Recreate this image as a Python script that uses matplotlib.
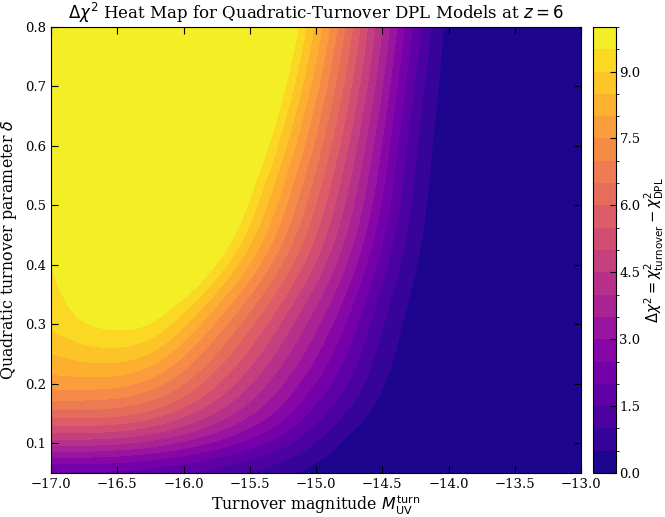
import numpy as np
import matplotlib
matplotlib.use("Agg")
import matplotlib.pyplot as plt
from matplotlib.colors import ListedColormap, BoundaryNorm

plt.rcParams['font.family'] = 'DejaVu Serif'
plt.rcParams['mathtext.fontset'] = 'dejavusans'

# turnover magnitude grid (columns) and quadratic parameter grid (rows)
m_turn = [-17.0, -16.75, -16.5, -16.25, -16.0, -15.75, -15.5, -15.25, -15.0,
          -14.75, -14.5, -14.25, -14.0, -13.75, -13.5, -13.25, -13.0]
delta = [0.05, 0.1, 0.15, 0.2, 0.25, 0.3, 0.35, 0.4, 0.45, 0.5,
         0.55, 0.6, 0.65, 0.7, 0.75, 0.8]

# delta chi^2, one row per delta value
dchi2 = [
    [1.5, 1.5, 1.45, 1.35, 1.2, 1.0, 0.75, 0.48, 0.2, 0.05, 0.02, 0.0, 0.0, 0.0, 0.0, 0.0, 0.0],
    [4.35, 4.35, 4.25, 3.95, 3.5, 2.95, 2.35, 1.75, 0.95, 0.25, 0.1, 0.02, 0.0, 0.0, 0.0, 0.0, 0.0],
    [6.4, 6.4, 6.35, 6.0, 5.35, 4.55, 3.7, 2.8, 1.8, 0.85, 0.2, 0.05, 0.0, 0.0, 0.0, 0.0, 0.0],
    [7.85, 7.85, 7.8, 7.4, 6.6, 5.6, 4.6, 3.55, 2.5, 1.5, 0.45, 0.1, 0.01, 0.0, 0.0, 0.0, 0.0],
    [8.45, 8.8, 8.9, 8.6, 7.65, 6.5, 5.4, 4.25, 3.1, 1.95, 0.7, 0.12, 0.01, 0.0, 0.0, 0.0, 0.0],
    [9.1, 9.63, 9.75, 9.75, 8.65, 7.4, 6.15, 4.9, 3.65, 2.4, 0.95, 0.16, 0.02, 0.0, 0.0, 0.0, 0.0],
    [9.3, 9.86, 10.1, 10.3, 9.83, 8.44, 7.06, 5.67, 4.28, 2.89, 1.3, 0.26, 0.03, 0.0, 0.0, 0.0, 0.0],
    [9.37, 10.2, 10.6, 11.0, 11.0, 9.56, 8.03, 6.5, 4.97, 3.44, 1.7, 0.4, 0.04, 0.0, 0.0, 0.0, 0.0],
    [9.42, 10.35, 10.8, 11.2, 11.4, 10.49, 8.84, 7.2, 5.56, 3.92, 2.1, 0.52, 0.05, 0.0, 0.0, 0.0, 0.0],
    [9.45, 10.5, 11.0, 11.5, 11.8, 11.14, 9.43, 7.73, 6.02, 4.32, 2.5, 0.65, 0.05, 0.0, 0.0, 0.0, 0.0],
    [9.46, 10.65, 11.2, 11.8, 12.0, 11.6, 10.0, 8.22, 6.44, 4.66, 2.75, 0.78, 0.06, 0.0, 0.0, 0.0, 0.0],
    [9.47, 10.8, 11.5, 12.0, 12.0, 12.0, 10.62, 8.76, 6.9, 5.04, 3.0, 0.9, 0.06, 0.0, 0.0, 0.0, 0.0],
    [9.52, 10.9, 11.8, 12.0, 12.0, 12.0, 11.16, 9.23, 7.3, 5.36, 3.3, 1.08, 0.07, 0.0, 0.0, 0.0, 0.0],
    [9.55, 11.0, 12.0, 12.0, 12.0, 12.0, 11.75, 9.74, 7.73, 5.72, 3.6, 1.28, 0.08, 0.0, 0.0, 0.0, 0.0],
    [9.58, 11.0, 12.0, 12.0, 12.0, 12.0, 12.0, 10.16, 8.09, 6.02, 3.85, 1.52, 0.1, 0.0, 0.0, 0.0, 0.0],
    [9.6, 11.0, 12.0, 12.0, 12.0, 12.0, 12.0, 10.61, 8.47, 6.33, 4.1, 1.78, 0.12, 0.0, 0.0, 0.0, 0.0],
]

cbar_ticks = [0.0, 1.5, 3.0, 4.5, 6.0, 7.5, 9.0]

# 20 filled bands of width 0.5, coloured at their mid values like contourf
levels = np.linspace(0, 10, 21)
mids = 0.5 * (levels[:-1] + levels[1:]) / 10.0
band_cmap = ListedColormap(plt.cm.plasma(mids))
band_cmap.set_over(band_cmap(1.0))
band_cmap.set_under(band_cmap(0.0))
norm = BoundaryNorm(levels, band_cmap.N)

dx = (m_turn[1] - m_turn[0]) / 2
dy = (delta[1] - delta[0]) / 2

fig = plt.figure(figsize=(6.65, 5.17), dpi=100)
ax = fig.add_axes([51/665, 44/517, 530/665, 446/517])
cax = fig.add_axes([593/665, 44/517, 23/665, 446/517])

im = ax.imshow(np.array(dchi2), origin='lower', aspect='auto',
               extent=[m_turn[0] - dx, m_turn[-1] + dx, delta[0] - dy, delta[-1] + dy],
               cmap=band_cmap, norm=norm, interpolation='bicubic',
               interpolation_stage='data')

ax.set_xlim(-17, -13)
ax.set_ylim(0.05, 0.8)
ax.set_xticks(np.arange(-17, -12.9, 0.5))
ax.set_yticks([0.1, 0.2, 0.3, 0.4, 0.5, 0.6, 0.7, 0.8])
ax.tick_params(direction='in', top=True, right=True, length=5, labelsize=9.5)
ax.set_xlabel(r'Turnover magnitude $M_{\rm UV}^{\rm turn}$', fontsize=11.4, labelpad=2)
ax.set_ylabel(r'Quadratic turnover parameter $\delta$', fontsize=11.4)
ax.set_title(r'$\Delta\chi^2$ Heat Map for Quadratic-Turnover DPL Models at $z = 6$',
             fontsize=12)

cb = fig.colorbar(im, cax=cax, ticks=cbar_ticks)
cb.ax.tick_params(direction='in', length=4, labelsize=9.5, pad=2.5)
cb.ax.set_yticklabels(['%.1f' % t for t in cbar_ticks])
cb.set_label(r'$\Delta\chi^2 = \chi^2_{\rm turnover} - \chi^2_{\rm DPL}$', fontsize=10.5,
             labelpad=1.5)

fig.savefig('out.png', dpi=100)
